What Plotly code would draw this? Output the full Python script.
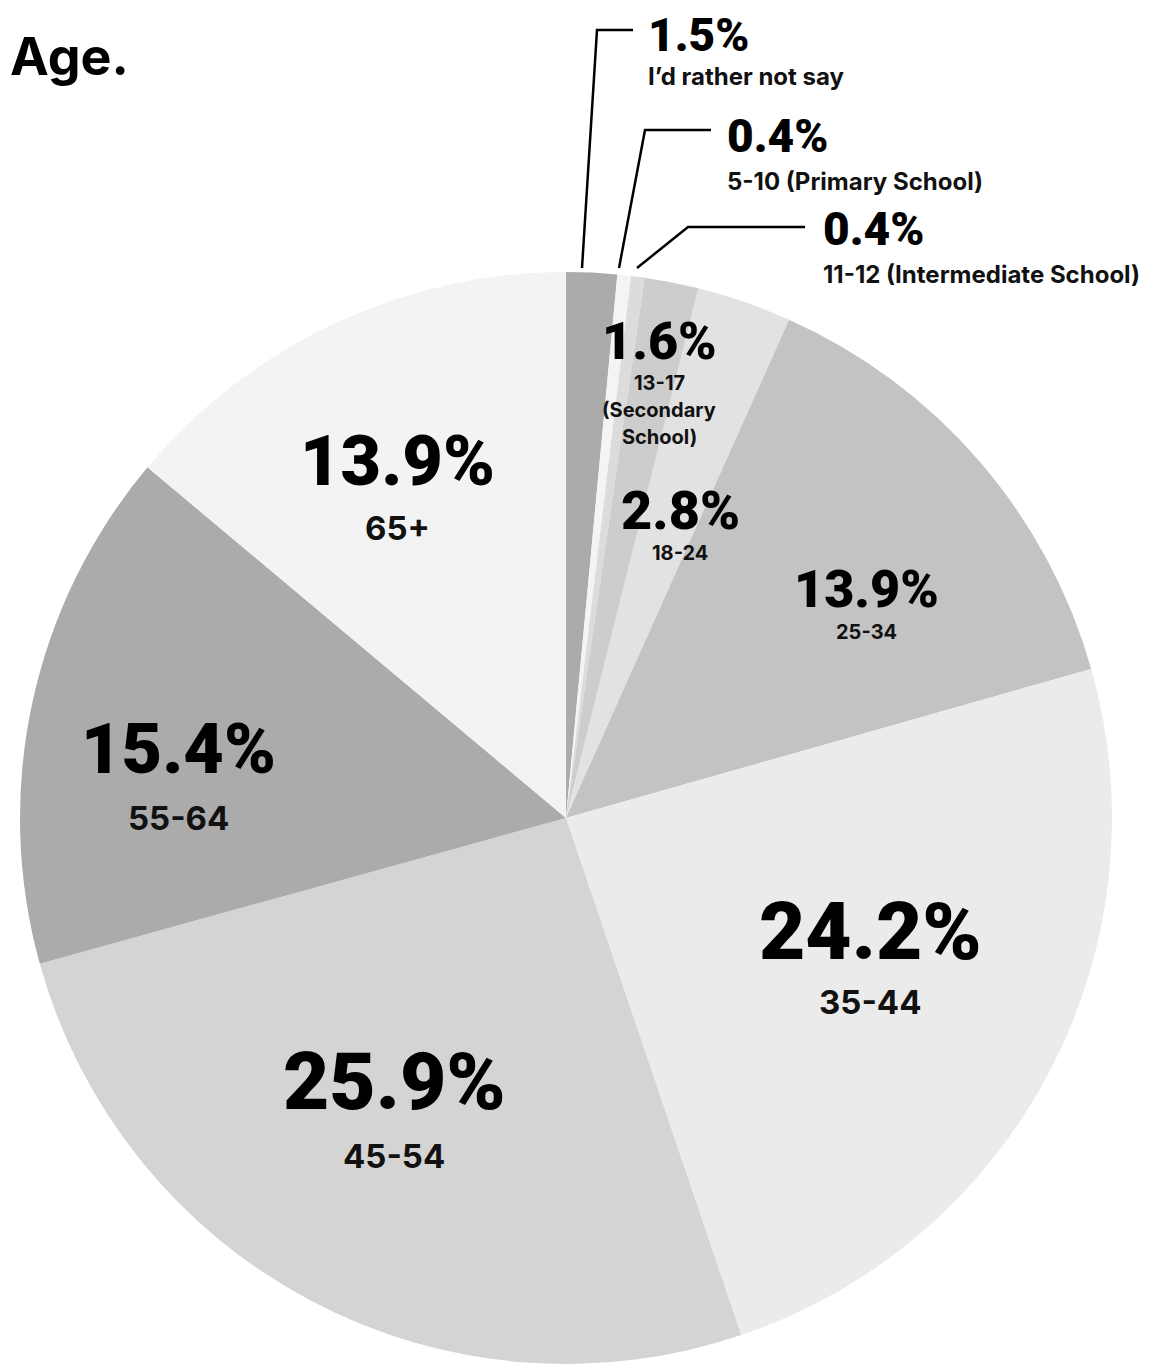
import plotly.graph_objects as go

W, H = 1158, 1364
OFF = 8  # page body margin of the exported html

# ---- data ----
categories = ["I’d rather not say", "5-10 (Primary School)", "11-12 (Intermediate School)",
              "13-17 (Secondary School)", "18-24", "25-34", "35-44", "45-54", "55-64", "65+"]
values = [1.5, 0.4, 0.4, 1.6, 2.8, 13.9, 24.2, 25.9, 15.4, 13.9]
sub_labels = [["I’d rather not say"], ["5-10 (Primary School)"], ["11-12 (Intermediate School)"],
              ["13-17", "(Secondary", "School)"], ["18-24"], ["25-34"], ["35-44"], ["45-54"],
              ["55-64"], ["65+"]]

# ---- style ----
colors = ["#ababab", "#f4f4f4", "#dcdcdc", "#cdcdcd", "#e2e2e2",
          "#c3c3c3", "#ebebeb", "#d4d4d4", "#ababab", "#f3f3f3"]

PCT_FONT = "Roboto, Liberation Sans, sans-serif"
SUB_FONT = "Inter, Roboto, sans-serif"

# label layout in screen pixels
label_layout = [
    dict(x=646, y=35, ps=46, ss=24, sy=[77], anchor="left"),
    dict(x=725, y=136, ps=46, ss=24, sy=[181], anchor="left"),
    dict(x=821, y=229, ps=46, ss=24, sy=[274], anchor="left"),
    dict(x=659, y=341, ps=52, ss=20, sy=[383, 410, 437], anchor="center"),
    dict(x=680, y=510, ps=54, ss=20, sy=[553], anchor="center"),
    dict(x=866, y=589, ps=52, ss=20, sy=[632], anchor="center"),
    dict(x=870, y=932, ps=80, ss=33, sy=[1002], anchor="center"),
    dict(x=394, y=1082, ps=80, ss=33, sy=[1156], anchor="center"),
    dict(x=178, y=749, ps=70, ss=33, sy=[818], anchor="center"),
    dict(x=398, y=461, ps=70, ss=33, sy=[528], anchor="center"),
]

leaders = [
    [(582, 268), (597, 30), (633, 30)],
    [(619, 268), (645, 130), (711, 130)],
    [(637, 268), (688, 227), (805, 227)],
]

cx, cy, r = 566, 818, 546


def px(x):
    return (x - OFF) / W


def py(y):
    return 1 - (y - OFF) / H


fig = go.Figure(go.Pie(
    labels=categories,
    values=values,
    sort=False,
    direction="clockwise",
    rotation=0,
    marker=dict(colors=colors, line=dict(width=0)),
    textinfo="none",
    hoverinfo="label+percent",
    showlegend=False,
    domain=dict(x=[px(cx - r), px(cx + r)], y=[py(cy + r), py(cy - r)]),
))

annotations = [dict(
    text="<b>Age.</b>", x=px(8), y=py(57), xref="paper", yref="paper",
    xanchor="left", yanchor="middle", showarrow=False,
    font=dict(family=SUB_FONT, size=52, color="#000"),
)]

for v, subs, lay in zip(values, sub_labels, label_layout):
    annotations.append(dict(
        text=f"{v:.1f}%", x=px(lay["x"]), y=py(lay["y"]), xref="paper", yref="paper",
        xanchor=lay["anchor"], yanchor="middle", showarrow=False,
        font=dict(family=PCT_FONT, size=lay["ps"], color="#000", weight=900),
    ))
    for s, sy in zip(subs, lay["sy"]):
        annotations.append(dict(
            text=f"<b>{s}</b>", x=px(lay["x"]), y=py(sy), xref="paper", yref="paper",
            xanchor=lay["anchor"], yanchor="middle", showarrow=False,
            font=dict(family=SUB_FONT, size=lay["ss"], color="#111"),
        ))

shapes = []
for pts in leaders:
    path = "M " + " L ".join(f"{px(x)},{py(y)}" for x, y in pts)
    shapes.append(dict(type="path", path=path, xref="paper", yref="paper",
                       line=dict(color="#000", width=2.5)))

fig.update_layout(
    width=W, height=H,
    margin=dict(l=0, r=0, t=0, b=0),
    paper_bgcolor="#ffffff",
    plot_bgcolor="#ffffff",
    annotations=annotations,
    shapes=shapes,
)

fig.write_html("out.html")
